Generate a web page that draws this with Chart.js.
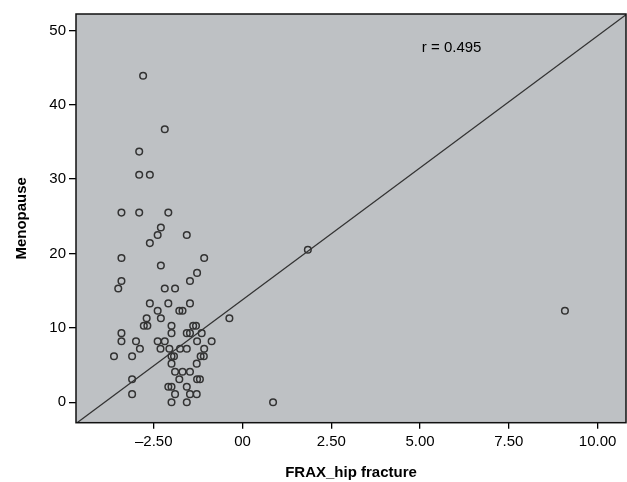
<!DOCTYPE html>
<html>
<head>
    <meta charset="UTF-8">
    <title>Menopause vs FRAX hip fracture</title>
    <script src="https://cdn.jsdelivr.net/npm/chart.js@4.4.1/dist/chart.umd.min.js"></script>
    <style>
        body { margin: 0; background: #fff; }
    </style>
</head>
<body>
    <canvas id="scatterChart" width="627" height="482"></canvas>

    <script>
        // values
        var fraxHip = [
            -2.80, -2.19, -2.91, -2.91, -2.61,
            -3.41, -2.91, -2.09,
            -2.30,
            -2.39, -1.57,
            -2.61,
            1.84,
            -3.41, -1.08,
            -2.30,
            -1.28,
            -1.48, -3.41,
            -3.50, -2.19, -1.90,
            -2.61, -2.09, -1.48,
            -2.39, -1.78, -1.69, 9.08,
            -2.70, -2.30, -0.37,
            -2.78, -2.68, -2.00, -1.39, -1.31,
            -3.41, -2.00, -1.57, -1.48, -1.15,
            -3.41, -3.00, -2.39, -2.19, -1.28, -0.87,
            -2.89, -2.31, -2.06, -1.76, -1.57, -1.08,
            -3.62, -3.11, -2.00, -1.93, -1.18, -1.09,
            -2.00, -1.29,
            -1.90, -1.69, -1.48,
            -3.11, -1.78, -1.28, -1.20,
            -2.09, -2.00, -1.57,
            -3.11, -1.90, -1.48, -1.29,
            -2.00, -1.57, 0.86
        ];
        var menopause = [
            43.9, 36.7, 33.7, 30.6, 30.6,
            25.5, 25.5, 25.5,
            23.5,
            22.5, 22.5,
            21.4,
            20.5,
            19.4, 19.4,
            18.4,
            17.4,
            16.3, 16.3,
            15.3, 15.3, 15.3,
            13.3, 13.3, 13.3,
            12.3, 12.3, 12.3, 12.3,
            11.3, 11.3, 11.3,
            10.3, 10.3, 10.3, 10.3, 10.3,
            9.3, 9.3, 9.3, 9.3, 9.3,
            8.2, 8.2, 8.2, 8.2, 8.2, 8.2,
            7.2, 7.2, 7.2, 7.2, 7.2, 7.2,
            6.2, 6.2, 6.2, 6.2, 6.2, 6.2,
            5.2, 5.2,
            4.1, 4.1, 4.1,
            3.1, 3.1, 3.1, 3.1,
            2.1, 2.1, 2.1,
            1.1, 1.1, 1.1, 1.1,
            0, 0, 0
        ];
        // fit line end points (corner to corner of the plot)
        var fitX = [-4.69, 10.8];
        var fitY = [-2.85, 52.1];

        var xTickValues = [-2.5, 0, 2.5, 5, 7.5, 10];
        var xTickLabels = ['\u20132.50', '00', '2.50', '5.00', '7.50', '10.00'];
        var yTickValues = [0, 10, 20, 30, 40, 50];
        var yTickLabels = ['0', '10', '20', '30', '40', '50'];

        var rLabel = 'r = 0.495';
        var rLabelAt = { x: 5.05, y: 47.7 };

        var points = fraxHip.map(function (x, i) { return { x: x, y: menopause[i] }; });
        var fitLine = fitX.map(function (x, i) { return { x: x, y: fitY[i] }; });

        var plotFrame = {
            id: 'plotFrame',
            beforeDatasetsDraw: function (chart) {
                var a = chart.chartArea, ctx = chart.ctx;
                ctx.save();
                ctx.fillStyle = '#bec1c4';
                ctx.fillRect(a.left, a.top, a.right - a.left, a.bottom - a.top);
                ctx.restore();
            },
            afterDraw: function (chart) {
                var a = chart.chartArea, ctx = chart.ctx;
                ctx.save();
                ctx.strokeStyle = '#111';
                ctx.lineWidth = 1.5;
                ctx.strokeRect(a.left, a.top, a.right - a.left, a.bottom - a.top);
                // r label
                ctx.fillStyle = '#000';
                ctx.font = '15px "Liberation Sans", Arial, sans-serif';
                ctx.textBaseline = 'middle';
                ctx.textAlign = 'left';
                ctx.fillText(rLabel, chart.scales.x.getPixelForValue(rLabelAt.x), chart.scales.y.getPixelForValue(rLabelAt.y));
                ctx.restore();
            }
        };

        var tickFont = { family: '"Liberation Sans", Arial, sans-serif', size: 15 };
        var titleFont = { family: '"Liberation Sans", Arial, sans-serif', size: 15, weight: 'bold' };

        new Chart(document.getElementById('scatterChart').getContext('2d'), {
            type: 'scatter',
            data: {
                datasets: [{
                    label: 'Menopause',
                    data: points,
                    pointRadius: 3.3,
                    pointBorderWidth: 1.5,
                    borderColor: '#333',
                    backgroundColor: 'rgba(0,0,0,0)',
                    order: 1
                }, {
                    label: 'Fit',
                    type: 'line',
                    data: fitLine,
                    borderColor: '#333',
                    borderWidth: 1.3,
                    pointRadius: 0,
                    fill: false,
                    order: 2
                }]
            },
            options: {
                responsive: false,
                animation: false,
                devicePixelRatio: 1,
                layout: { autoPadding: false, padding: { top: 14, right: 1, left: 0, bottom: 0 } },
                plugins: {
                    legend: { display: false },
                    tooltip: { enabled: false }
                },
                scales: {
                    x: {
                        type: 'linear',
                        min: -4.69,
                        max: 10.8,
                        afterBuildTicks: function (scale) {
                            scale.ticks = xTickValues.map(function (v) { return { value: v }; });
                        },
                        afterFit: function (scale) {
                            scale.height = 59.3;
                            scale.paddingLeft = 0;
                            scale.paddingRight = 0;
                        },
                        ticks: {
                            color: '#000',
                            font: tickFont,
                            padding: 4,
                            maxRotation: 0,
                            autoSkip: false,
                            callback: function (v) {
                                var i = xTickValues.indexOf(v);
                                return i >= 0 ? xTickLabels[i] : '';
                            }
                        },
                        grid: { drawOnChartArea: false, drawTicks: true, tickLength: 6, color: '#000', lineWidth: 1.3 },
                        border: { display: false },
                        title: { display: true, text: 'FRAX_hip fracture', color: '#000', font: titleFont, padding: { top: 0, bottom: 0 } }
                    },
                    y: {
                        type: 'linear',
                        min: -2.74,
                        max: 52.2,
                        afterBuildTicks: function (scale) {
                            scale.ticks = yTickValues.map(function (v) { return { value: v }; });
                        },
                        afterFit: function (scale) {
                            scale.width = 76;
                            scale.paddingTop = 0;
                            scale.paddingBottom = 0;
                        },
                        ticks: {
                            color: '#000',
                            font: tickFont,
                            padding: 3,
                            autoSkip: false,
                            callback: function (v) {
                                var i = yTickValues.indexOf(v);
                                return i >= 0 ? yTickLabels[i] : '';
                            }
                        },
                        grid: { drawOnChartArea: false, drawTicks: true, tickLength: 7, color: '#000', lineWidth: 1.3 },
                        border: { display: false },
                        title: { display: true, text: 'Menopause', color: '#000', font: titleFont, padding: { top: 13, bottom: 0 } }
                    }
                }
            },
            plugins: [plotFrame]
        });
    </script>
</body>
</html>
